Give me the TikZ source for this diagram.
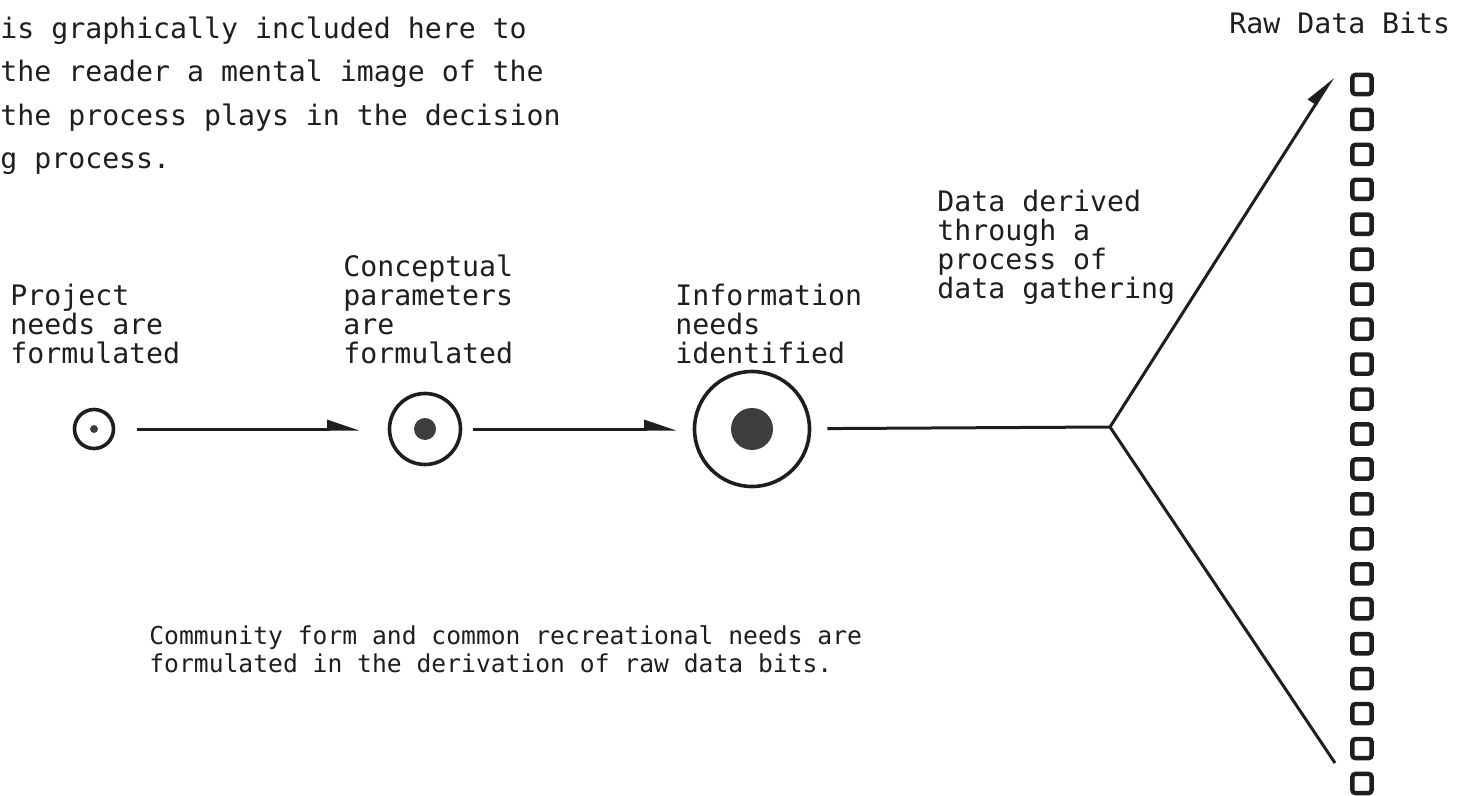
\documentclass[tikz,border=0pt]{standalone}
\usepackage{fontspec}
\setmonofont{DejaVu Sans Mono}
\usepackage{xcolor}
\usetikzlibrary{arrows.meta}
\definecolor{ink}{RGB}{30,30,30}
\definecolor{core}{RGB}{62,62,62}

\begin{document}
\begin{tikzpicture}[x=0.5pt, y=-0.5pt, every node/.style={inner sep=0pt},
  lbl/.style={font=\ttfamily\fontsize{14.1pt}{14.5pt}\selectfont, color=ink, align=left, anchor=base west},
  para/.style={lbl, font=\ttfamily\fontsize{14.1pt}{21.75pt}\selectfont},
  note/.style={lbl, font=\ttfamily\fontsize{12.33pt}{14pt}\selectfont},
  ring/.style={circle, draw=ink, line width=1.8pt},
  core/.style={circle, fill=core},
  bit/.style={draw=ink, line width=2.2pt, rounded corners=1.5pt, minimum size=9.6pt},
  link/.style={ink, line width=1.5pt},
  arrow/.style={link, -{Triangle[harpoon, length=14pt, width=9pt]}}]
\useasboundingbox (0,0) rectangle (1460,796);

% running text and headings (anchored on the last line)
\node[para] (intro) at (0,169)
  {is graphically included here to\\the reader a mental image of the\\the process plays in the decision\\g process.};
\node[lbl] (rawhead) at (1229,34) {Raw Data Bits};
\node[lbl] (gather) at (937,299) {Data derived\\through a\\process of\\data gathering};
\node[lbl] (projlbl) at (10,364) {Project\\needs are\\formulated};
\node[lbl] (conclbl) at (343,364) {Conceptual\\parameters\\are\\formulated};
\node[lbl] (infolbl) at (675,364) {Information\\needs\\identified};
\node[note] (summary) at (149,672)
  {Community form and common recreational needs are\\formulated in the derivation of raw data bits.};

% growing stages
\node[ring, minimum size=19.5pt] (proj) at (94,429) {};
\node[core, minimum size=4pt] at (proj) {};
\node[ring, minimum size=35.5pt] (conc) at (425,429) {};
\node[core, minimum size=11pt] at (conc) {};
\node[ring, minimum size=57.5pt] (info) at (752,429) {};
\node[core, minimum size=21pt] at (info) {};

\coordinate (fork) at (1110,427);
\coordinate (rawtop) at (1333,77);
\coordinate (rawbot) at (1335,763);

\draw[arrow, shorten <=11pt, shorten >=14pt] (proj) -- (conc);
\draw[arrow, shorten <=5.5pt, shorten >=8pt] (conc) -- (info);
\draw[link, shorten <=8pt] (info) -- (fork);
\draw[arrow] (fork) -- (rawtop);
\draw[link] (fork) -- (rawbot);

% column of data bits
\foreach \i in {0,...,20}
  \node[bit] (bit\i) at (1362,{84.5+34.95*\i}) {};
\end{tikzpicture}
\end{document}
